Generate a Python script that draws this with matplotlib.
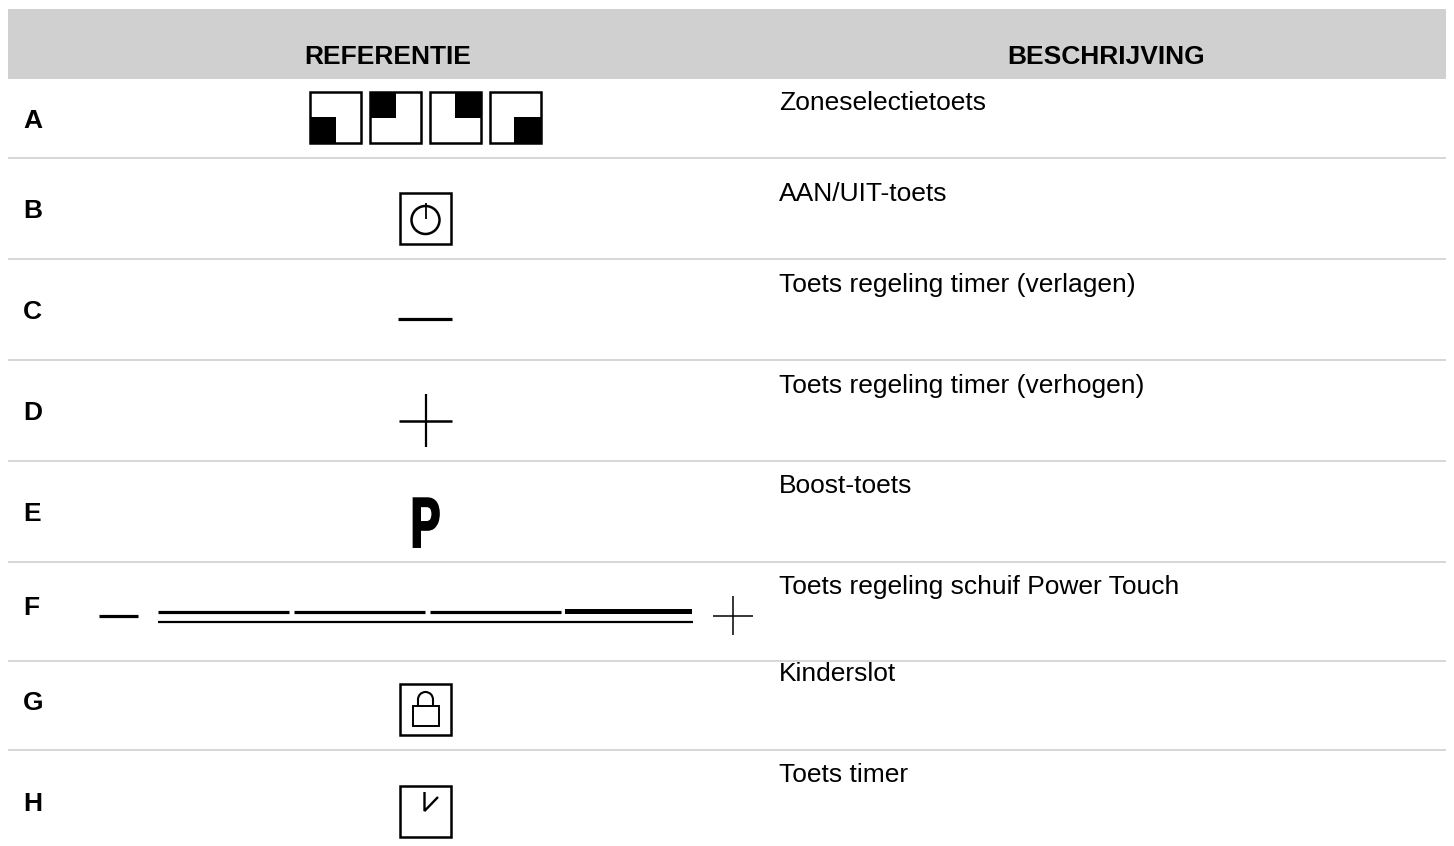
import matplotlib
matplotlib.use("Agg")
import matplotlib.pyplot as plt
from matplotlib.patches import Rectangle, Circle, Arc
from matplotlib.patheffects import AbstractPathEffect
from matplotlib.transforms import Affine2D

plt.rcParams['font.family'] = ['Liberation Sans', 'DejaVu Sans']

headers = ["REFERENTIE", "BESCHRIJVING"]
row_keys = ["A", "B", "C", "D", "E", "F", "G", "H"]
descriptions = ["Zoneselectietoets", "AAN/UIT-toets", "Toets regeling timer (verlagen)",
                "Toets regeling timer (verhogen)", "Boost-toets",
                "Toets regeling schuif Power Touch", "Kinderslot", "Toets timer"]
key_y = [128, 218, 319, 420, 521, 615, 710, 811]
desc_y = [110, 201, 292, 393, 493, 594, 681, 782]
sep_y = [158, 259, 360, 461, 562, 661, 750]

FS = 19
fig = plt.figure(figsize=(14.54, 8.46), dpi=100)
ax = fig.add_axes([0, 0, 1, 1])
ax.set_xlim(0, 1454)
ax.set_ylim(846, 0)
ax.axis('off')


def box(x0, y0, x1, y1, fc='none', lw=1.8, ec='black', z=3):
    ax.add_patch(Rectangle((x0, y0), x1 - x0, y1 - y0, fc=fc, ec=ec, lw=lw, zorder=z))


def fill(x0, y0, x1, y1):
    ax.add_patch(Rectangle((x0, y0), x1 - x0, y1 - y0, fc='black', ec='none', zorder=3))


def line(xs, ys, lw=1.5):
    ax.plot(xs, ys, color='black', lw=lw, solid_capstyle='butt', solid_joinstyle='miter', zorder=3)


class Narrow(AbstractPathEffect):
    def __init__(self, sx, cx, stroke):
        super().__init__()
        self.sx, self.cx, self.stroke = sx, cx, stroke

    def draw_path(self, renderer, gc, tpath, affine, rgbFace=None):
        t = affine + Affine2D().translate(-self.cx, 0).scale(self.sx, 1).translate(self.cx, 0)
        gc0 = renderer.new_gc()
        gc0.copy_properties(gc)
        gc0.set_linewidth(self.stroke)
        gc0.set_foreground('black')
        gc0.set_joinstyle('miter')
        renderer.draw_path(gc0, tpath, t, rgbFace)
        gc0.restore()


# header band and separators
ax.add_patch(Rectangle((8, 9), 1438, 70, fc='#d0d0d0', ec='none', zorder=1))
for y in sep_y:
    ax.plot([8, 1446], [y, y], color='#d0d0d0', lw=1.2, zorder=1, solid_capstyle='butt')

ax.text(387.5, 64, headers[0], ha='center', va='baseline', fontsize=FS, fontweight='bold', color='black', zorder=4)
ax.text(1106, 64, headers[1], ha='center', va='baseline', fontsize=FS, fontweight='bold', color='black', zorder=4)

for k, ky, d, dy in zip(row_keys, key_y, descriptions, desc_y):
    ax.text(23, ky, k, ha='left', va='baseline', fontsize=FS, fontweight='bold', color='black', zorder=4)
    ax.text(779, dy, d, ha='left', va='baseline', fontsize=FS, color='black', zorder=4)

# A: zone squares
for x0 in (309, 369, 429, 489):
    box(x0 + 1.2, 92.2, x0 + 51.8, 142.8)
fill(310, 117, 336, 143)
fill(370, 92, 396, 118)
fill(455, 92, 481, 118)
fill(514, 117, 541, 143)

# B: power
box(400.2, 193.2, 450.8, 243.8)
ax.add_patch(Circle((425.5, 220), 14, fc='none', ec='black', lw=1.8, zorder=3))
line([425.5, 425.5], [203, 219], lw=1.3)

# C: minus
line([398, 452], [319, 319], lw=2.3)

# D: plus
line([399, 452], [421, 421], lw=1.8)
line([425.5, 425.5], [394, 447], lw=1.6)

# E: P
p = ax.text(425.5, 547, "P", ha='center', va='baseline', fontsize=51, fontweight='bold', color='black', zorder=4)
fig.canvas.draw()
bb = p.get_window_extent()
p.set_path_effects([Narrow(0.63, (bb.x0 + bb.x1) / 2, 1.4)])

# F: slider
line([99, 138], [616, 616], lw=2.3)
for x0, x1 in ((158, 289), (294, 425), (430, 561)):
    line([x0, x1], [612.5, 612.5], lw=2.3)
fill(565, 609, 692, 614)
line([158, 693], [622, 622], lw=1.6)
line([713, 753], [616, 616], lw=1.1)
line([733, 733], [596, 635], lw=1.1)

# G: lock
box(400.2, 684.2, 450.8, 734.8)
box(412.5, 706, 438.5, 726, lw=1.4)
line([418, 418], [706, 699], lw=1.5)
line([433, 433], [706, 699], lw=1.5)
ax.add_patch(Arc((425.5, 699.5), 15, 15, theta1=180, theta2=360, ec='black', lw=1.5, zorder=3))

# H: clock
box(400.2, 786.2, 450.8, 836.8)
line([424.5, 424.5, 438], [792, 811, 797], lw=1.7)

fig.savefig("out.png", dpi=100)
